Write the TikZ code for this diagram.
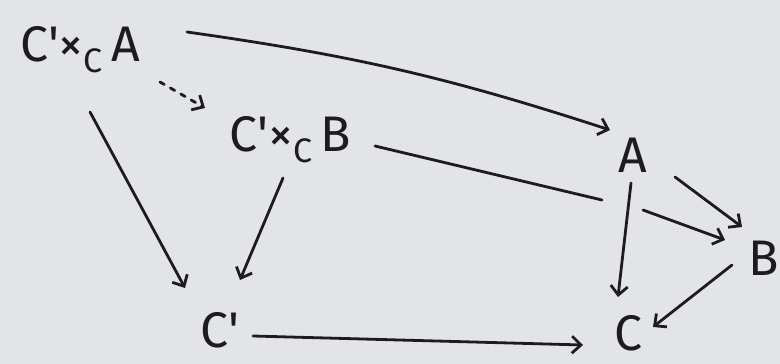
\documentclass[tikz,border=0pt]{standalone}
\usepackage{fontspec}
\setmainfont{Fira Sans}
\usetikzlibrary{arrows.meta}
\definecolor{paper}{RGB}{226,228,231}
\definecolor{ink}{RGB}{28,28,32}
\newcommand{\subC}{\raisebox{-0.22em}{\fontsize{34}{40}\selectfont C}}
\newcommand{\pbk}[1]{C\textquotesingle\texttimes\subC\,#1}
\tikzset{
  obj/.style={inner sep=0pt, text=ink, font=\fontsize{50}{60}\selectfont},
  plainline/.style={draw=ink, line width=2.8pt, line cap=round},
  arr/.style={plainline, -{Straight Barb[length=9pt,width=17pt,line width=2.8pt]}},
  dotarr/.style={arr, dash pattern=on 5pt off 7pt},
}
\begin{document}
\begin{tikzpicture}[x=1pt,y=-1pt]
\fill[paper] (0,0) rectangle (780,364);
\useasboundingbox (0,0) rectangle (780,364);
\node[obj] (PA) at (80,50) {\pbk{A}};
\node[obj] (PB) at (290,140) {\pbk{B}};
\node[obj] (Cp) at (220,330) {C\textquotesingle};
\node[obj] (A) at (633,155) {A};
\node[obj] (B) at (764,258) {B};
\node[obj] (C) at (628,333) {C};
\coordinate (g1) at (602,200);
\coordinate (g2) at (643,210);
% top arrow
\draw[arr] ([shift={(107,-18)}]PA.center) to[bend left=5] ([shift={(-23,-25)}]A.center);
% dotted
\draw[dotarr] ([shift={(80,32)}]PA.center) -- ([shift={(-85,-32)}]PB.center);
% down arrows to C'
\draw[arr] ([shift={(10,62)}]PA.center) -- ([shift={(-35,-42)}]Cp.center);
\draw[arr] ([shift={(-7,38)}]PB.center) -- ([shift={(20,-50)}]Cp.center);
% C' -> C
\draw[arr] ([shift={(33,6)}]Cp.center) -- ([shift={(-45,12)}]C.center);
% PB -> B, broken at the crossing
\draw[plainline] ([shift={(85,6)}]PB.center) -- (g1);
\draw[arr] (g2) -- ([shift={(-39,-18)}]B.center);
% triangle
\draw[arr] ([shift={(-2,28)}]A.center) -- ([shift={(-10,-36)}]C.center);
\draw[arr] ([shift={(42,22)}]A.center) -- ([shift={(-22,-31)}]B.center);
\draw[arr] ([shift={(-32,7)}]B.center) -- ([shift={(25,-6)}]C.center);
\end{tikzpicture}
\end{document}
